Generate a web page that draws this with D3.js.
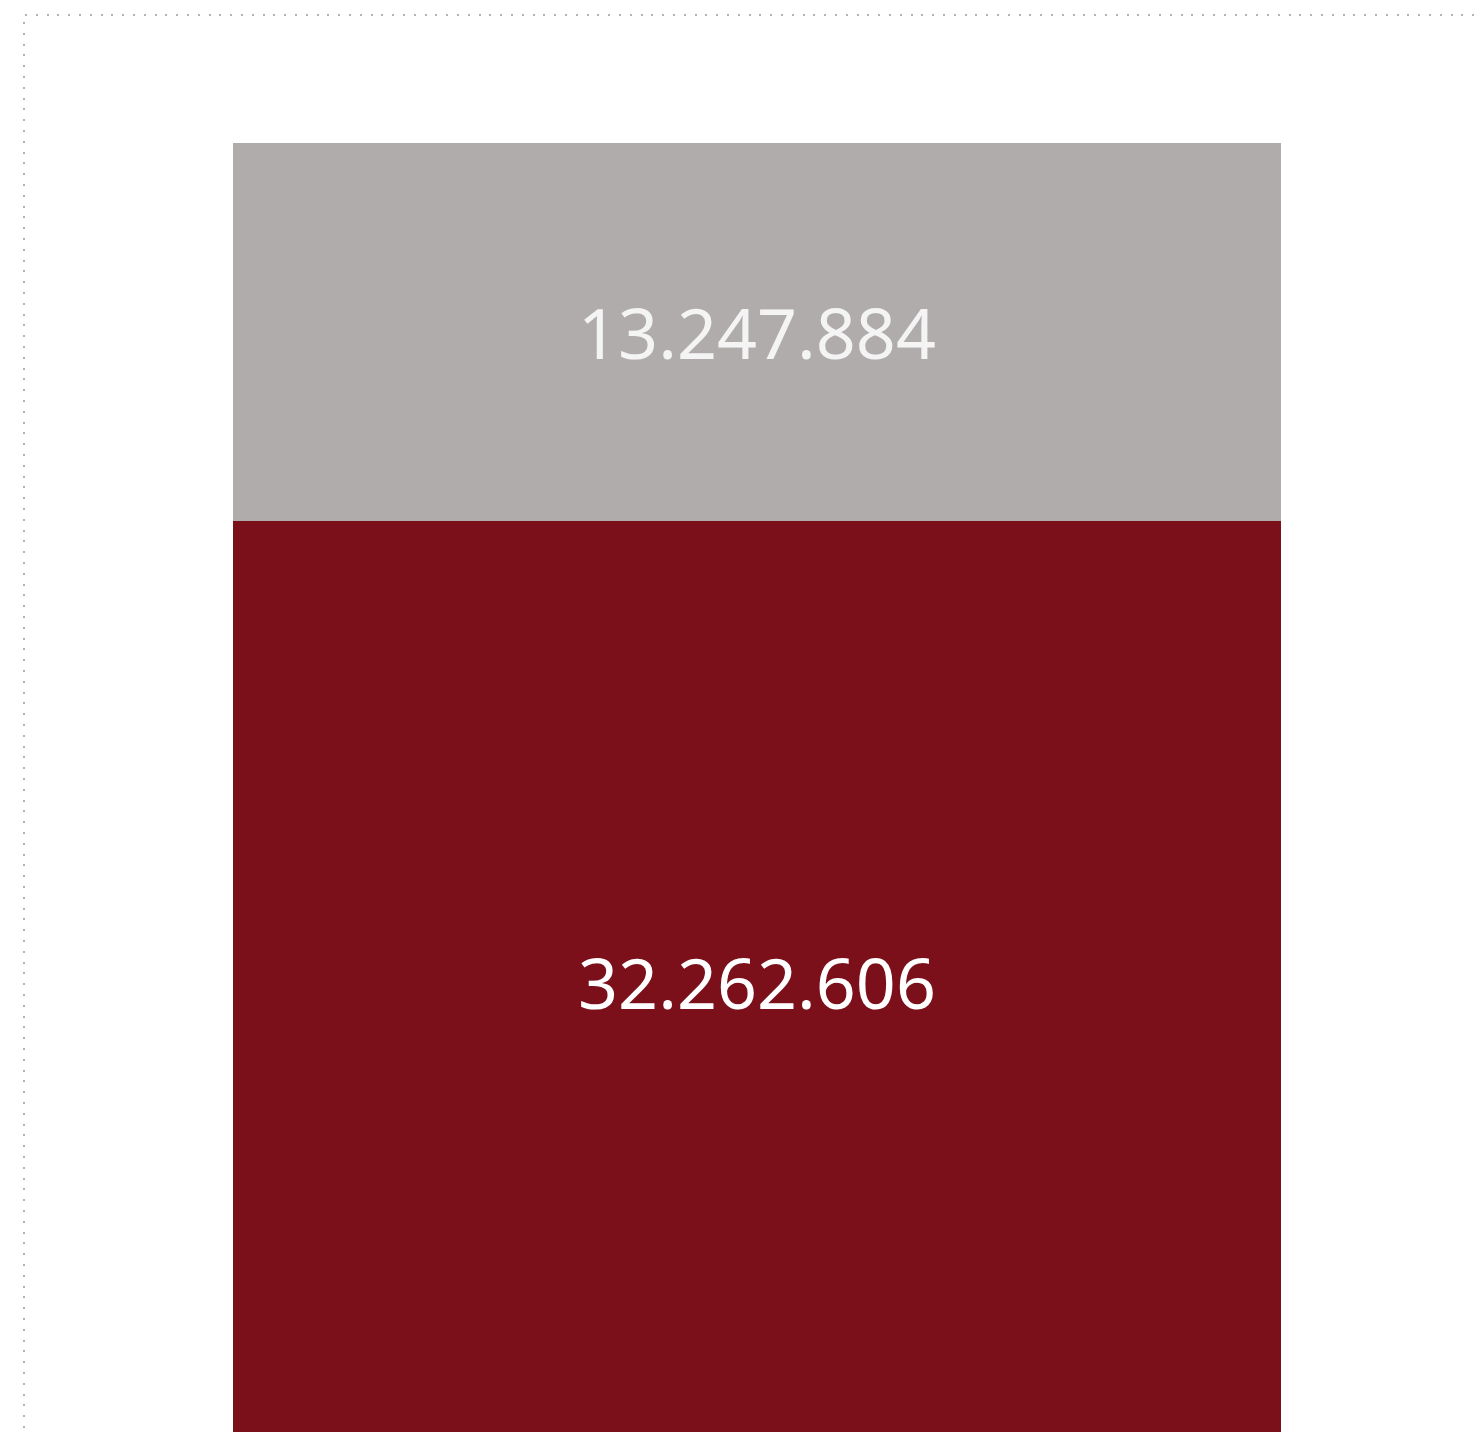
<!DOCTYPE html>
<html>
<head>
<meta charset="utf-8">
<script src="https://cdn.jsdelivr.net/npm/d3@7"></script>
<style>
  html, body { margin: 0; padding: 0; background: #fff; overflow: hidden; }
</style>
</head>
<body>
<script>
// data
var categories = ["altri", "totale"];
var values = [13247884, 32262606];
var colors = ["#b0acab", "#7b0f1a"];

var W = 1476, H = 1432;
var svg = d3.select("body").append("svg")
    .attr("width", W)
    .attr("height", H);

// dotted frame (top + left)
svg.append("line")
    .attr("x1", 25).attr("y1", 15).attr("x2", W).attr("y2", 15)
    .style("stroke", "#b4b4b4").style("stroke-width", 2)
    .style("shape-rendering", "crispEdges")
    .style("stroke-dasharray", "2 8.8");
svg.append("line")
    .attr("x1", 24).attr("y1", 22).attr("x2", 24).attr("y2", H)
    .style("stroke", "#b4b4b4").style("stroke-width", 2)
    .style("shape-rendering", "crispEdges")
    .style("stroke-dasharray", "2 8.8");

// stack: top segment first, bottom below
var total = d3.sum(values);
var y = d3.scaleLinear()
    .domain([0, total])
    .range([1442, 143]);

var x = d3.scaleBand()
    .domain(["bar"])
    .range([233, 1281])
    .padding(0);

// bottom segment is values[1], top is values[0]
var segs = [
    {name: categories[1], v: values[1], y0: 0, y1: values[1], color: colors[1]},
    {name: categories[0], v: values[0], y0: values[1], y1: total, color: colors[0]}
];

var fmt = d3.formatLocale({decimal: ",", thousands: ".", grouping: [3], currency: ["", "€"]}).format(",d");

var g = svg.append("g");
g.selectAll("rect")
    .data(segs)
    .enter().append("rect")
    .attr("x", x("bar"))
    .attr("width", x.bandwidth())
    .attr("y", function(d){ return Math.round(y(d.y1)); })
    .attr("height", function(d){ return Math.round(y(d.y0)) - Math.round(y(d.y1)); })
    .style("shape-rendering", "crispEdges")
    .style("fill", function(d){ return d.color; });

g.selectAll("text")
    .data(segs)
    .enter().append("text")
    .attr("x", x("bar") + x.bandwidth() / 2)
    .attr("y", function(d){ return (y(d.y0) + y(d.y1)) / 2 + 27; })
    .attr("text-anchor", "middle")
    .style("font-family", "'Noto Sans', sans-serif")
    .style("font-size", "70px")
    .style("fill", function(d, i){ return i == 0 ? "#ffffff" : "#f4f4f4"; })
    .text(function(d){ return fmt(d.v); });
</script>
</body>
</html>
